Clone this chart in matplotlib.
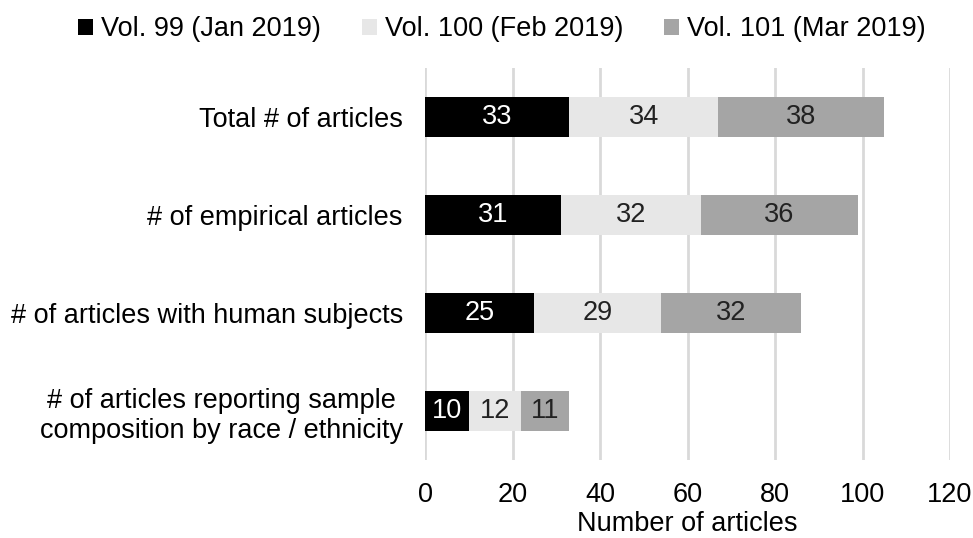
import matplotlib.pyplot as plt
import numpy as np

plt.rcParams["font.family"] = ["Liberation Sans", "DejaVu Sans"]

categories = [
    "Total # of articles",
    "# of empirical articles",
    "# of articles with human subjects",
    "# of articles reporting sample\ncomposition by race / ethnicity",
]
series_names = ["Vol. 99 (Jan 2019)", "Vol. 100 (Feb 2019)", "Vol. 101 (Mar 2019)"]
vol99 = [33, 31, 25, 10]
vol100 = [34, 32, 29, 12]
vol101 = [38, 36, 32, 11]
xticks = [0, 20, 40, 60, 80, 100, 120]

colors = ["#000000", "#E7E7E7", "#A5A5A5"]
text_colors = ["white", "#222222", "#222222"]
fs = 19.5

fig = plt.figure(figsize=(9.73, 5.38), dpi=100)
ax = fig.add_axes([0.4368, 0.145, 0.5396, 0.7286])

y = np.arange(len(categories))
left = np.zeros(len(categories))
for name, vals, c, tc in zip(series_names, [vol99, vol100, vol101], colors, text_colors):
    bars = ax.barh(y, vals, left=left, height=0.41, color=c, label=name, zorder=3)
    for b, v in zip(bars, vals):
        ax.text(b.get_x() + b.get_width() / 2, b.get_y() + b.get_height() / 2, str(v),
                ha="center", va="center", color=tc, fontsize=fs, zorder=4)
    left += np.array(vals)

ax.set_xlim(0, 120)
ax.set_ylim(len(categories) - 0.5, -0.5)
ax.set_xticks(xticks)
ax.set_yticks(y)
ax.set_yticklabels(categories, fontsize=fs, ha="right", multialignment="center")
ax.tick_params(axis="x", labelsize=fs, length=0, pad=16, colors="#000000")
ax.tick_params(axis="y", length=0, pad=16)
ax.grid(axis="x", color="#D9D9D9", linewidth=2, zorder=0)
for s in ax.spines.values():
    s.set_visible(False)
ax.set_xlabel("Number of articles", fontsize=fs, labelpad=2)

fig.legend(loc="upper center", bbox_to_anchor=(0.516, 1.015), ncol=3, frameon=False,
           fontsize=fs, handlelength=0.55, handleheight=0.55, handletextpad=0.3,
           columnspacing=1.5)

fig.savefig("out.png", dpi=100)
